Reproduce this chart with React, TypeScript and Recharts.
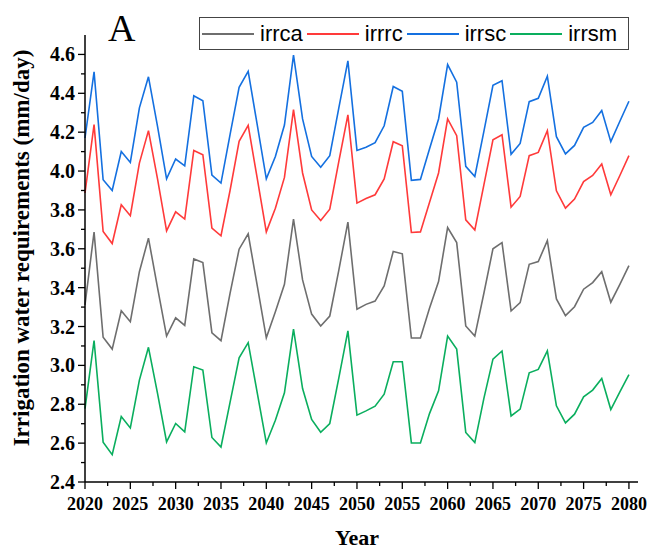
import React from "react";
import { Legend, Line, LineChart, XAxis, YAxis } from "recharts";

const years = [
  2020, 2021, 2022, 2023, 2024, 2025, 2026, 2027, 2028, 2029,
  2030, 2031, 2032, 2033, 2034, 2035, 2036, 2037, 2038, 2039,
  2040, 2041, 2042, 2043, 2044, 2045, 2046, 2047, 2048, 2049,
  2050, 2051, 2052, 2053, 2054, 2055, 2056, 2057, 2058, 2059,
  2060, 2061, 2062, 2063, 2064, 2065, 2066, 2067, 2068, 2069,
  2070, 2071, 2072, 2073, 2074, 2075, 2076, 2077, 2078, 2079,
  2080,
];

const irrca = [
  3.311, 3.686, 3.145, 3.084, 3.281, 3.225, 3.482, 3.655, 3.4, 3.151,
  3.245, 3.206, 3.548, 3.529, 3.168, 3.127, 3.371, 3.598, 3.677, 3.41,
  3.142, 3.276, 3.417, 3.753, 3.44, 3.264, 3.203, 3.254, 3.49, 3.737,
  3.289, 3.314, 3.331, 3.409, 3.586, 3.574, 3.141, 3.141, 3.294, 3.431,
  3.709, 3.632, 3.203, 3.151, 3.371, 3.6, 3.632, 3.28, 3.323, 3.52,
  3.534, 3.642, 3.342, 3.256, 3.302, 3.392, 3.426, 3.482, 3.325, 3.417,
  3.513,
];

const irrrc = [
  3.887, 4.239, 3.689, 3.627, 3.826, 3.77, 4.041, 4.208, 3.96, 3.692,
  3.79, 3.753, 4.106, 4.084, 3.706, 3.667, 3.9, 4.153, 4.235, 3.962,
  3.687, 3.809, 3.967, 4.316, 3.99, 3.8, 3.745, 3.804, 4.05, 4.289,
  3.835, 3.859, 3.878, 3.959, 4.151, 4.13, 3.684, 3.687, 3.838, 3.99,
  4.268, 4.182, 3.749, 3.697, 3.929, 4.161, 4.187, 3.814, 3.869, 4.079,
  4.096, 4.208, 3.898, 3.809, 3.856, 3.946, 3.977, 4.036, 3.878, 3.977,
  4.079,
];

const irrsc = [
  4.17, 4.51, 3.955, 3.9, 4.1, 4.044, 4.325, 4.485, 4.23, 3.96,
  4.062, 4.027, 4.387, 4.362, 3.979, 3.938, 4.187, 4.431, 4.513, 4.237,
  3.96, 4.075, 4.237, 4.596, 4.268, 4.075, 4.02, 4.079, 4.325, 4.567,
  4.106, 4.122, 4.146, 4.233, 4.435, 4.41, 3.952, 3.957, 4.113, 4.268,
  4.548, 4.457, 4.024, 3.972, 4.204, 4.441, 4.465, 4.086, 4.142, 4.357,
  4.374, 4.488, 4.177, 4.088, 4.132, 4.225, 4.25, 4.312, 4.151, 4.256,
  4.359,
];

const irrsm = [
  2.778, 3.128, 2.605, 2.541, 2.737, 2.678, 2.924, 3.093, 2.856, 2.606,
  2.701, 2.658, 2.993, 2.976, 2.629, 2.58, 2.81, 3.039, 3.117, 2.859,
  2.601, 2.718, 2.859, 3.187, 2.881, 2.722, 2.656, 2.701, 2.936, 3.178,
  2.744, 2.766, 2.79, 2.852, 3.019, 3.019, 2.601, 2.601, 2.752, 2.869,
  3.151, 3.084, 2.655, 2.603, 2.83, 3.032, 3.074, 2.74, 2.775, 2.962,
  2.979, 3.075, 2.792, 2.704, 2.749, 2.838, 2.873, 2.933, 2.773, 2.864,
  2.952,
];

const xMajorTicks = [2020, 2025, 2030, 2035, 2040, 2045, 2050, 2055, 2060, 2065, 2070, 2075, 2080];
const yMajorTicks = [2.4, 2.6, 2.8, 3.0, 3.2, 3.4, 3.6, 3.8, 4.0, 4.2, 4.4, 4.6];
const yMinorTicks = [2.5, 2.7, 2.9, 3.1, 3.3, 3.5, 3.7, 3.9, 4.1, 4.3, 4.5];

const SERIES = [
  { key: "irrca", values: irrca, color: "#6e6e6e" },
  { key: "irrrc", values: irrrc, color: "#ff3a3a" },
  { key: "irrsc", values: irrsc, color: "#1470e0" },
  { key: "irrsm", values: irrsm, color: "#0aae5e" },
];

const data = years.map((year, i) => {
  const row: Record<string, number> = { year };
  for (const s of SERIES) row[s.key] = s.values[i];
  return row;
});

// majors plus a minor tick halfway between each pair
const xTicks = xMajorTicks.flatMap((t, i) =>
  i < xMajorTicks.length - 1 ? [t, t + 2.5] : [t]
);
const yTicks = [...yMajorTicks, ...yMinorTicks].sort((a, b) => a - b);

const SERIF = '"Liberation Serif", "Times New Roman", serif';
const SANS = '"Liberation Sans", Arial, sans-serif';

function XTick(props: any) {
  const { x, y, payload } = props;
  const major = xMajorTicks.includes(payload.value);
  return (
    <g>
      <line x1={x} x2={x} y1={y} y2={y + (major ? 7 : 4)} stroke="#000" strokeWidth={1.3} />
      {major && (
        <text x={x} y={y + 28} textAnchor="middle" fontFamily={SERIF} fontWeight="bold" fontSize={18} fill="#000">
          {payload.value}
        </text>
      )}
    </g>
  );
}

function YTick(props: any) {
  const { x, y, payload } = props;
  const major = yMajorTicks.some((t) => Math.abs(t - payload.value) < 1e-6);
  return (
    <g>
      <line x1={x - (major ? 7 : 4)} x2={x} y1={y} y2={y} stroke="#000" strokeWidth={1.3} />
      {major && (
        <text x={x - 10} y={y + 7} textAnchor="end" fontFamily={SERIF} fontWeight="bold" fontSize={20} fill="#000">
          {payload.value.toFixed(1)}
        </text>
      )}
    </g>
  );
}

function LegendBox() {
  return (
    <div
      style={{
        display: "flex",
        alignItems: "center",
        border: "1.5px solid #444",
        height: 33,
        paddingLeft: 2,
        boxSizing: "border-box",
        background: "#fff",
      }}
    >
      {SERIES.map((s) => (
        <div key={s.key} style={{ display: "flex", alignItems: "center", marginRight: 4 }}>
          <div style={{ width: 52, height: 0, borderTop: `2px solid ${s.color}`, marginRight: 6 }} />
          <span style={{ fontFamily: SANS, fontSize: 22, color: "#000", lineHeight: "22px" }}>{s.key}</span>
        </div>
      ))}
    </div>
  );
}

export default function App() {
  return (
    <div style={{ position: "relative", width: 647, height: 550 }}>
      {/* drop the body margin so the chart can use the whole window */}
      <style>{`html, body { margin: 0; overflow: hidden; }`}</style>
      <LineChart width={647} height={550} data={data} margin={{ top: 35, right: 9, left: 0, bottom: 0 }}>
        <XAxis
          dataKey="year"
          type="number"
          domain={[2020, 2081]}
          ticks={xTicks}
          interval={0}
          tickSize={0}
          tickMargin={0}
          tickLine={false}
          tick={<XTick />}
          axisLine={{ stroke: "#000", strokeWidth: 1.5 }}
          height={68}
          label={() => (
            <text x={357} y={545} textAnchor="middle" fontFamily={SERIF} fontWeight="bold" fontSize={22} fill="#000">
              Year
            </text>
          )}
        />
        <YAxis
          type="number"
          domain={[2.4, 4.7]}
          ticks={yTicks}
          interval={0}
          tickSize={0}
          tickMargin={0}
          tickLine={false}
          tick={<YTick />}
          axisLine={{ stroke: "#000", strokeWidth: 1.5 }}
          width={85}
          allowDataOverflow
          label={() => (
            <text
              x={29}
              y={248}
              transform="rotate(-90, 29, 248)"
              textAnchor="middle"
              fontFamily={SERIF}
              fontWeight="bold"
              fontSize={23}
              fill="#000"
            >
              Irrigation water requirements (mm/day)
            </text>
          )}
        />
        <Legend
          layout="horizontal"
          verticalAlign="middle"
          content={<LegendBox />}
          wrapperStyle={{ top: 17, left: 199, width: 430 }}
        />
        {SERIES.map((s) => (
          <Line
            key={s.key}
            type="linear"
            dataKey={s.key}
            stroke={s.color}
            strokeWidth={1.6}
            dot={false}
            activeDot={false}
            isAnimationActive={false}
          />
        ))}
      </LineChart>
      <div
        style={{
          position: "absolute",
          left: 108,
          top: 8,
          fontFamily: SERIF,
          fontSize: 38,
          lineHeight: "40px",
          color: "#000",
        }}
      >
        A
      </div>
    </div>
  );
}
